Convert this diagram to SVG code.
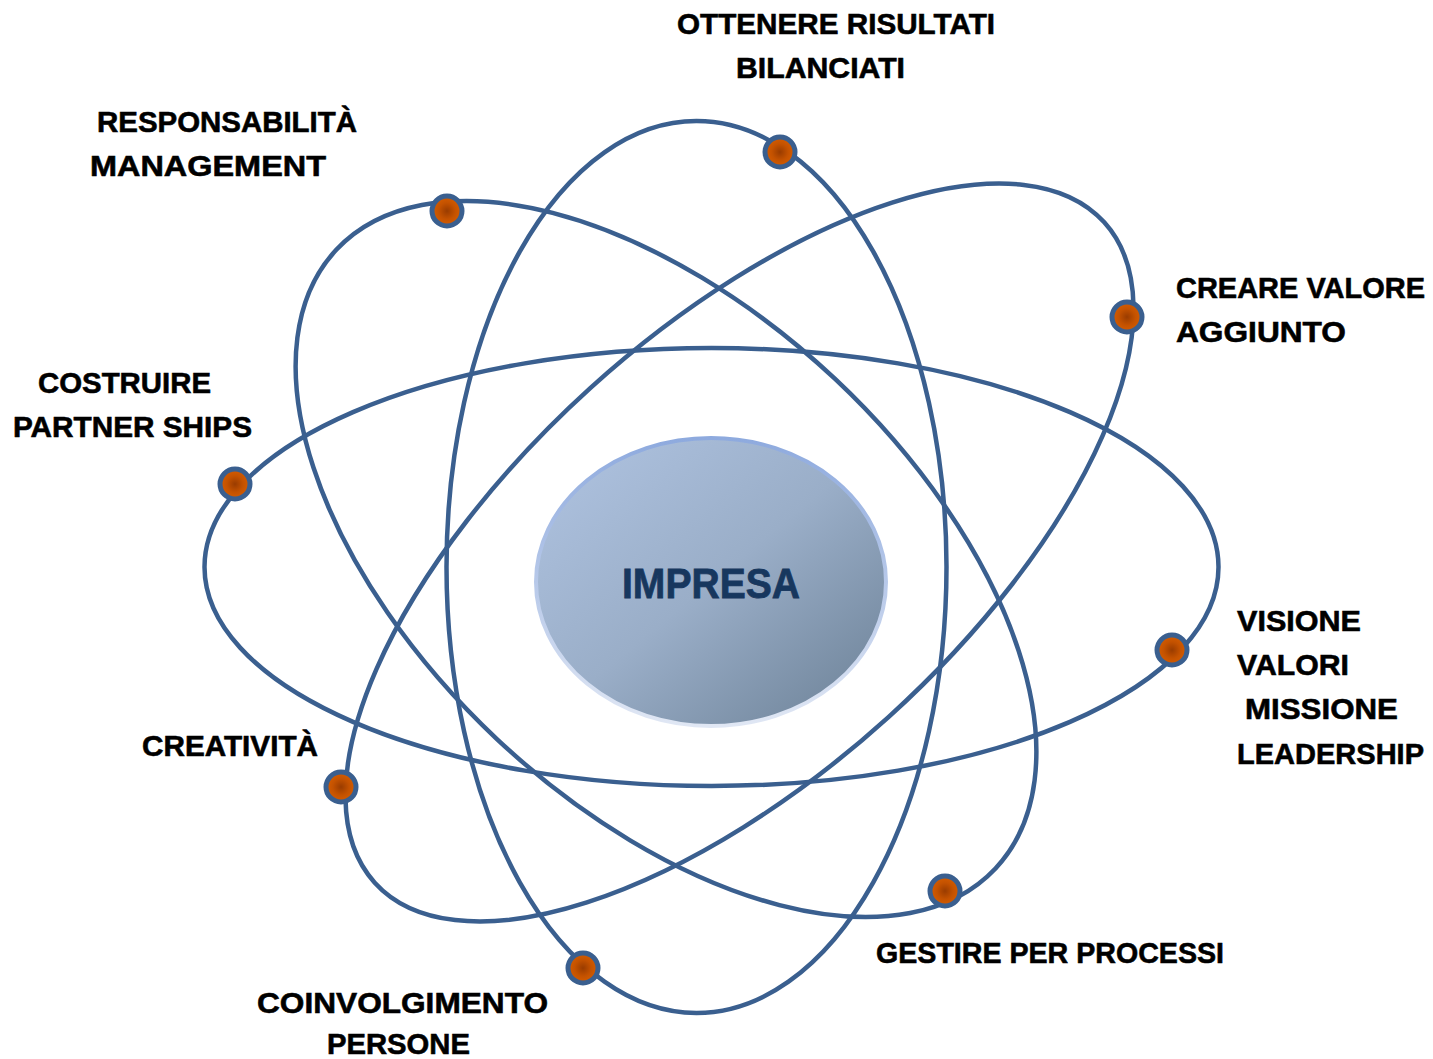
<svg xmlns="http://www.w3.org/2000/svg" width="1433" height="1059" viewBox="0 0 1433 1059">
  <defs>
    <radialGradient id="dotFill" cx="0.5" cy="0.5" r="0.5">
      <stop offset="0" stop-color="#9a3c00"/>
      <stop offset="0.55" stop-color="#c45200"/>
      <stop offset="1" stop-color="#d65d00"/>
    </radialGradient>
    <linearGradient id="coreFill" x1="0" y1="0" x2="1" y2="1">
      <stop offset="0" stop-color="#b0c4e2"/>
      <stop offset="0.5" stop-color="#9aaec8"/>
      <stop offset="1" stop-color="#6a7f94"/>
    </linearGradient>
    <linearGradient id="coreStroke" x1="0" y1="0" x2="0" y2="1">
      <stop offset="0" stop-color="#8eaade"/>
      <stop offset="1" stop-color="#e0e7f4"/>
    </linearGradient>
  </defs>
  <style>
    .orbit { fill: none; stroke: #3a5f8f; stroke-width: 4.5; }
    .dot { fill: url(#dotFill); stroke: #3a5f8f; stroke-width: 5; }
    .lbl { font-family: "Liberation Sans", Arial, sans-serif; font-weight: bold; font-size: 30px; fill: #000000; stroke: #000000; stroke-width: 0.6; }
    .core-lbl { font-family: "Liberation Sans", Arial, sans-serif; font-weight: bold; font-size: 43px; fill: #17375e; stroke: #17375e; stroke-width: 0.8; }
  </style>
  <rect width="1433" height="1059" fill="#ffffff"/>

  <g id="orbits">
    <ellipse class="orbit" cx="711.5" cy="567" rx="507" ry="219"/>
    <ellipse class="orbit" cx="696.5" cy="567" rx="250" ry="446"/>
    <ellipse class="orbit" cx="666" cy="559" rx="452" ry="247" transform="rotate(43.2 666 559)"/>
    <ellipse class="orbit" cx="739.5" cy="552.5" rx="492" ry="222" transform="rotate(-42.15 739.5 552.5)"/>
  </g>

  <g id="impresa">
    <ellipse cx="711" cy="582" rx="175" ry="144" fill="url(#coreFill)" stroke="url(#coreStroke)" stroke-width="4"/>
    <text class="core-lbl" x="622" y="598" textLength="178" lengthAdjust="spacingAndGlyphs">IMPRESA</text>
  </g>

  <g id="node-ottenere">
    <circle class="dot" cx="780" cy="152" r="15"/>
    <text class="lbl" x="677" y="34" textLength="318" lengthAdjust="spacingAndGlyphs">OTTENERE RISULTATI</text>
    <text class="lbl" x="736" y="78" textLength="169" lengthAdjust="spacingAndGlyphs">BILANCIATI</text>
  </g>

  <g id="node-responsabilita">
    <circle class="dot" cx="447" cy="211" r="15"/>
    <text class="lbl" x="97" y="132" textLength="260" lengthAdjust="spacingAndGlyphs">RESPONSABILITÀ</text>
    <text class="lbl" x="90" y="176" textLength="236" lengthAdjust="spacingAndGlyphs">MANAGEMENT</text>
  </g>

  <g id="node-creare">
    <circle class="dot" cx="1127" cy="317" r="15"/>
    <text class="lbl" x="1176" y="298" textLength="249" lengthAdjust="spacingAndGlyphs">CREARE VALORE</text>
    <text class="lbl" x="1176" y="342" textLength="170" lengthAdjust="spacingAndGlyphs">AGGIUNTO</text>
  </g>

  <g id="node-costruire">
    <circle class="dot" cx="235" cy="484" r="15"/>
    <text class="lbl" x="38" y="393" textLength="173" lengthAdjust="spacingAndGlyphs">COSTRUIRE</text>
    <text class="lbl" x="13" y="437" textLength="239" lengthAdjust="spacingAndGlyphs">PARTNER SHIPS</text>
  </g>

  <g id="node-visione">
    <circle class="dot" cx="1172" cy="650" r="15"/>
    <text class="lbl" x="1237" y="631" textLength="124" lengthAdjust="spacingAndGlyphs">VISIONE</text>
    <text class="lbl" x="1237" y="675" textLength="112" lengthAdjust="spacingAndGlyphs">VALORI</text>
    <text class="lbl" x="1245" y="719" textLength="153" lengthAdjust="spacingAndGlyphs">MISSIONE</text>
    <text class="lbl" x="1237" y="764" textLength="187" lengthAdjust="spacingAndGlyphs">LEADERSHIP</text>
  </g>

  <g id="node-creativita">
    <circle class="dot" cx="341" cy="787" r="15"/>
    <text class="lbl" x="142" y="756" textLength="176" lengthAdjust="spacingAndGlyphs">CREATIVITÀ</text>
  </g>

  <g id="node-gestire">
    <circle class="dot" cx="945" cy="891" r="15"/>
    <text class="lbl" x="876" y="963" textLength="348" lengthAdjust="spacingAndGlyphs">GESTIRE PER PROCESSI</text>
  </g>

  <g id="node-coinvolgimento">
    <circle class="dot" cx="583" cy="968" r="15"/>
    <text class="lbl" x="257" y="1013" textLength="291" lengthAdjust="spacingAndGlyphs">COINVOLGIMENTO</text>
    <text class="lbl" x="327" y="1054" textLength="143" lengthAdjust="spacingAndGlyphs">PERSONE</text>
  </g>
</svg>
